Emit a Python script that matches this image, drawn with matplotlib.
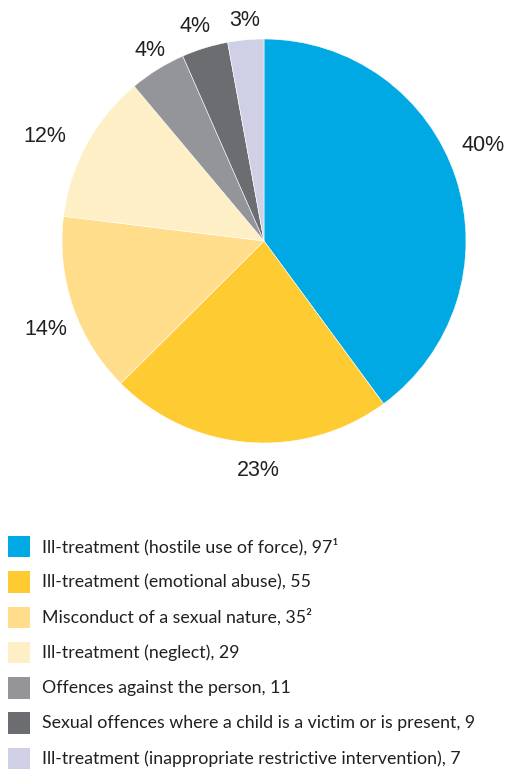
import numpy as np
import matplotlib.pyplot as plt
from matplotlib.patches import Rectangle

# case counts by category
categories = [
    "Ill-treatment (hostile use of force), 97\u00b9",
    "Ill-treatment (emotional abuse), 55",
    "Misconduct of a sexual nature, 35\u00b2",
    "Ill-treatment (neglect), 29",
    "Offences against the person, 11",
    "Sexual offences where a child is a victim or is present, 9",
    "Ill-treatment (inappropriate restrictive intervention), 7",
]
counts = [97, 55, 35, 29, 11, 9, 7]
pct_labels = ["40%", "23%", "14%", "12%", "4%", "4%", "3%"]
colors = ["#00a9e3", "#ffcb32", "#ffdd8a", "#ffefc6", "#939598", "#6c6d71", "#cfd0e6"]

W, H = 508, 770
fig = plt.figure(figsize=(W / 100, H / 100), dpi=100)

# pie axes: centre (264, 241), radius 202 px
cx, cy, r = 264, 241, 202
ax = fig.add_axes([(cx - r) / W, (H - cy - r) / H, 2 * r / W, 2 * r / H])
wedges, _ = ax.pie(counts, colors=colors, startangle=90, counterclock=False,
                   radius=1.0, wedgeprops=dict(edgecolor="white", linewidth=0.4))
ax.set_xlim(-1, 1)
ax.set_ylim(-1, 1)
ax.set_aspect("equal")
ax.axis("off")

# label placement: distance from centre and angular nudge (degrees)
label_dist = [1.19, 1.12, 1.16, 1.21, 1.11, 1.13, 1.11]
label_nudge = [6, 3, 2.4, 2.5, -1.4, 0.6, -0.3]
for w, txt, d, da in zip(wedges, pct_labels, label_dist, label_nudge):
    ang = np.deg2rad((w.theta1 + w.theta2) / 2 + da)
    ax.text(d * np.cos(ang), d * np.sin(ang) - 0.015, txt, ha="center", va="center",
            fontsize=15.5, family="Liberation Sans", color="#231f20", clip_on=False)

# legend drawn in pixel coordinates
lax = fig.add_axes([0, 0, 1, 1])
lax.set_xlim(0, W)
lax.set_ylim(H, 0)
lax.axis("off")
y0, step, sq = 546.7, 35.3, 21.5
for i, (lab, col) in enumerate(zip(categories, colors)):
    y = y0 + i * step
    lax.add_patch(Rectangle((8, y - sq / 2), sq, sq, facecolor=col, edgecolor="none"))
    lax.text(41.5, y, lab, ha="left", va="center", fontsize=12.8,
             family="Lato", color="#231f20")

fig.savefig("out.png", dpi=100)
